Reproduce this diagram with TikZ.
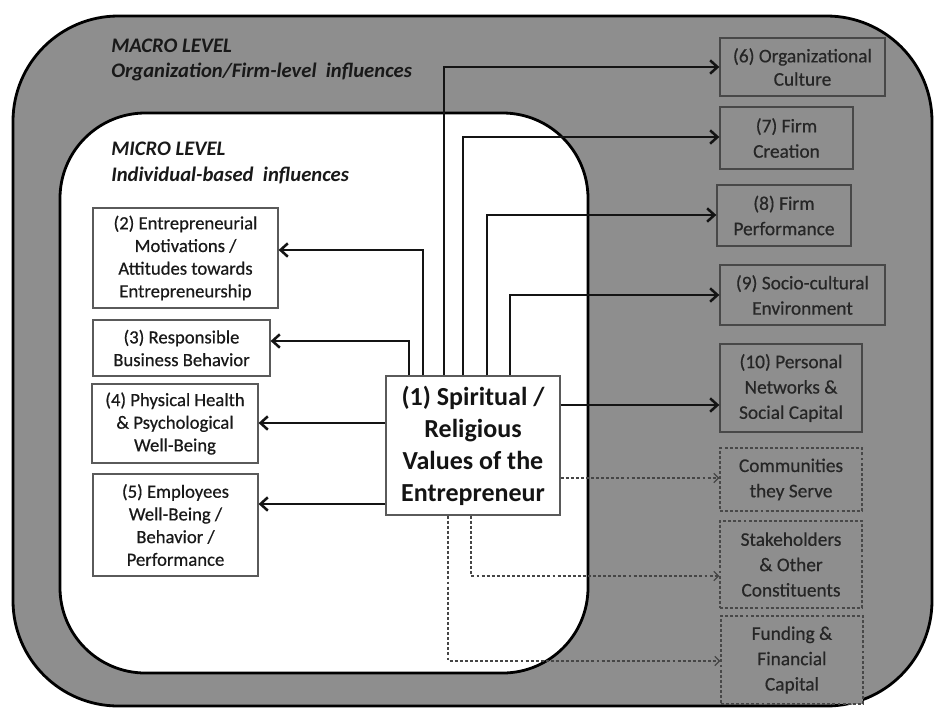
\documentclass[tikz,border=0pt]{standalone}
\usepackage{fontspec}
\setmainfont{Carlito}
\newfontfamily\boxfont{Carlito}[FakeBold=0.5]
\usetikzlibrary{arrows.meta}
\definecolor{bggray}{RGB}{142,142,142}
\definecolor{rline}{RGB}{72,72,72}
\definecolor{rtext}{RGB}{38,38,38}
\definecolor{lline}{RGB}{90,90,90}
\definecolor{dashc}{RGB}{70,70,70}
\begin{document}
\begin{tikzpicture}[x=0.75pt,y=-0.75pt,
  lbox/.style={draw=lline, line width=0.9pt, fill=white, inner sep=0pt, align=center,
    text=black!90, font=\boxfont\fontsize{14}{17}\selectfont},
  rbox/.style={draw=rline, line width=1pt, fill=bggray, inner sep=0pt, align=center,
    text=rtext, font=\boxfont\fontsize{14.5}{19}\selectfont},
  dbox/.style={rbox, dash pattern=on 2.2pt off 1.6pt},
  cbox/.style={draw=lline, line width=1pt, fill=white, inner sep=0pt, align=center,
    text=black!92, font=\bfseries\fontsize{19.5}{24}\selectfont},
  title/.style={anchor=base west, inner sep=0pt, text=black!90,
    font=\bfseries\itshape\fontsize{15.5}{19}\selectfont},
  arr/.style={line width=1.9pt, draw=black!92, -{Straight Barb[length=5.5pt,width=10pt]}},
  darr/.style={line width=0.9pt, draw=dashc, dash pattern=on 2.2pt off 1.6pt,
    -{Straight Barb[length=3.5pt,width=7pt]}}]
\useasboundingbox (0,0) rectangle (936,708);
% levels
\draw[fill=bggray, draw=black, line width=2.1pt, rounded corners=79pt] (13,16) rectangle (932,706);
\draw[fill=white, draw=black, line width=2.1pt, rounded corners=64pt] (60,113) rectangle (588,673);
\node[title] (macro1) at (111,52) {MACRO LEVEL};
\node[title] (macro2) at (111,77) {Organization/Firm-level\ \ influences};
\node[title] (micro1) at (111,155) {MICRO LEVEL};
\node[title] (micro2) at (111,181) {Individual-based\ \ influences};
% left boxes
\node[lbox, minimum width=138.75pt, minimum height=75pt] (n2) at (185.5,258)
  {(2) Entrepreneurial\\Motivations /\\Attitudes towards\\Entrepreneurship};
\node[lbox, minimum width=132.75pt, minimum height=42pt] (n3) at (181.5,348)
  {(3) Responsible\\Business Behavior};
\node[lbox, minimum width=124.5pt, minimum height=59.25pt] (n4) at (175,423.5)
  {(4) Physical Health\\\& Psychological\\Well-Being};
\node[lbox, minimum width=123.75pt, minimum height=76.5pt] (n5) at (175.5,525)
  {(5) Employees\\Well-Being /\\Behavior /\\Performance};
% center
\node[cbox, minimum width=130.5pt, minimum height=104.25pt] (c) at (473,445.5)
  {(1) Spiritual /\\Religious\\Values of the\\Entrepreneur};
% right boxes
\node[rbox, minimum width=123.75pt, minimum height=43.5pt, font=\boxfont\fontsize{14.5}{17.5}\selectfont] (n6) at (802.5,67)
  {(6) Organizational\\Culture};
\node[rbox, minimum width=99.75pt, minimum height=46.5pt] (n7) at (786.5,138)
  {(7) Firm\\Creation};
\node[rbox, minimum width=100.5pt, minimum height=45.75pt] (n8) at (784,215.5)
  {(8) Firm\\Performance};
\node[rbox, minimum width=123.75pt, minimum height=45pt] (n9) at (802.5,295)
  {(9) Socio-cultural\\Environment};
\node[rbox, minimum width=106.5pt, minimum height=66pt] (n10) at (791,388)
  {(10) Personal\\Networks \&\\Social Capital};
\node[dbox, minimum width=106.5pt, minimum height=47.25pt] (ncom) at (791,479.5)
  {Communities\\they Serve};
\node[dbox, minimum width=106.5pt, minimum height=65.25pt] (nsta) at (791,564.5)
  {Stakeholders\\\& Other\\Constituents};
\node[dbox, minimum width=106.5pt, minimum height=66pt] (nfun) at (792,660)
  {Funding \&\\Financial\\Capital};
% arrow levels
\coordinate (a2) at (423,250);
\coordinate (a3) at (409,341);
\coordinate (a4) at (0,423);
\coordinate (a5) at (0,504);
\coordinate (a6) at (444,67);
\coordinate (a7) at (463,137);
\coordinate (a8) at (487,215);
\coordinate (a9) at (510,295);
\coordinate (a10) at (0,405);
\coordinate (d1) at (0,478);
\coordinate (d2) at (471,576);
\coordinate (d3) at (448,661);
% arrows
\draw[arr] (c.north -| a2) |- (n2.east |- a2);
\draw[arr] (c.north -| a3) |- (n3.east |- a3);
\draw[arr] (c.west |- a4) -- (n4.east |- a4);
\draw[arr] (c.west |- a5) -- (n5.east |- a5);
\draw[arr] (c.north -| a6) |- (n6.west |- a6);
\draw[arr] (c.north -| a7) |- (n7.west |- a7);
\draw[arr] (c.north -| a8) |- (n8.west |- a8);
\draw[arr] (c.north -| a9) |- (n9.west |- a9);
\draw[arr] (c.east |- a10) -- (n10.west |- a10);
\draw[darr] (c.east |- d1) -- (ncom.west |- d1);
\draw[darr] (c.south -| d2) |- (nsta.west |- d2);
\draw[darr] (c.south -| d3) |- (nfun.west |- d3);
\end{tikzpicture}
\end{document}
